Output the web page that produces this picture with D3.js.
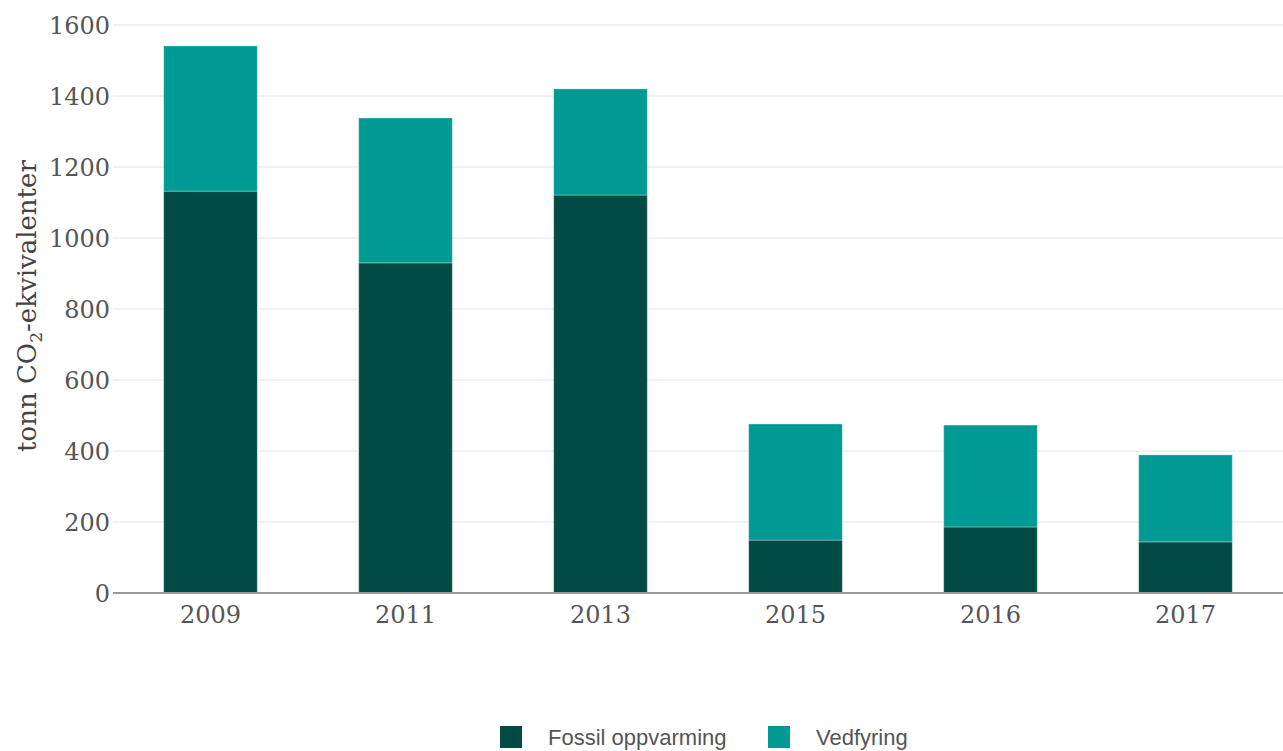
<!DOCTYPE html>
<html><head><meta charset="utf-8">
<script src="https://cdn.jsdelivr.net/npm/d3@7"></script>
<style>body{margin:0;background:#fff;}svg{display:block;}</style>
</head><body>
<svg id="c" width="1283" height="751"></svg>
<script>
const years = ["2009","2011","2013","2015","2016","2017"];
const fossil = [1132, 930, 1121, 149, 186, 144];
const ved = [409, 408, 299, 327, 287, 245];
const seriesNames = ["Fossil oppvarming","Vedfyring"];
const colors = ["#024b45","#009a94"];
const yTicks = [0,200,400,600,800,1000,1200,1400,1600];

const svg = d3.select("#c");
const m = {left:113, right:1283, top:25, bottom:593};
const x = d3.scaleBand().domain(years).range([m.left, m.right]).paddingInner(0.52).paddingOuter(0.26);
const y = d3.scaleLinear().domain([0,1600]).range([m.bottom, m.top]);

// grid
svg.append("g").selectAll("line").data(yTicks.filter(d=>d>0)).join("line")
  .attr("x1", m.left).attr("x2", m.right)
  .attr("y1", d=>y(d)).attr("y2", d=>y(d))
  .attr("stroke","#ececec").attr("stroke-width",1.5);

const data = years.map((yr,i)=>({year:yr, fossil:fossil[i], ved:ved[i]}));
const stack = d3.stack().keys(["fossil","ved"])(data);
svg.append("g").selectAll("g").data(stack).join("g")
  .attr("fill",(d,i)=>colors[i])
  .selectAll("rect").data(d=>d).join("rect")
  .attr("x", d=>x(d.data.year)).attr("width", x.bandwidth())
  .attr("y", d=>y(d[1])).attr("height", d=>y(d[0])-y(d[1]))
  .attr("stroke","rgba(255,255,255,0.3)").attr("stroke-width",1);

// y axis labels
const yAxis = d3.axisLeft(y).tickValues(yTicks).tickSize(0).tickPadding(0).tickFormat(d3.format("d"));
const ya = svg.append("g").attr("transform",`translate(${m.left-3},0)`).call(yAxis);
ya.select(".domain").remove();
ya.selectAll("text").attr("font-family","DejaVu Serif").attr("font-size",24).attr("fill","#555").attr("dy","0.36em");

// x axis
const xAxis = d3.axisBottom(x).tickSize(0).tickPadding(8);
const xa = svg.append("g").attr("transform",`translate(0,${m.bottom})`).call(xAxis);
xa.select(".domain").remove();
xa.selectAll("text").attr("font-family","DejaVu Serif").attr("font-size",24).attr("fill","#555").attr("dy","0.9em");
svg.append("line").attr("x1",m.left).attr("x2",m.right).attr("y1",y(0)).attr("y2",y(0))
  .attr("stroke","#999").attr("stroke-width",2);

// y title
const t = svg.append("text").attr("transform","translate(36,306) rotate(-90)")
  .attr("text-anchor","middle").attr("font-family","DejaVu Serif").attr("font-size",26).attr("fill","#444");
t.append("tspan").text("tonn CO");
t.append("tspan").attr("font-size",17).attr("dy",6).text("2");
t.append("tspan").attr("dy",-6).text("-ekvivalenter");

// legend
const legX = [500, 768];
const lg = svg.append("g").selectAll("g").data(seriesNames).join("g")
  .attr("transform",(d,i)=>`translate(${legX[i]},726)`);
lg.append("rect").attr("width",22).attr("height",22).attr("fill",(d,i)=>colors[i]);
lg.append("text").attr("x",48).attr("y",19).text(d=>d)
  .attr("font-family","Liberation Sans").attr("font-size",22).attr("fill","#555");
</script>
</body></html>
